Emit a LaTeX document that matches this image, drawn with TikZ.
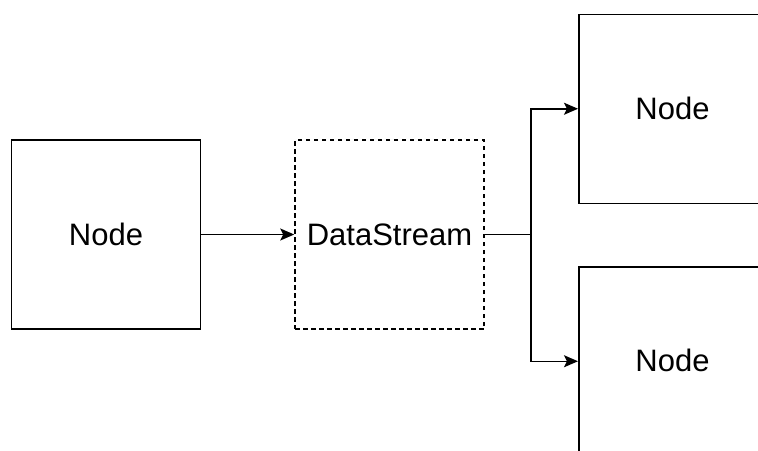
\documentclass[tikz,border=0pt]{standalone}
\usepackage{fontspec}
\setmainfont{Liberation Sans}
\usetikzlibrary{arrows.meta}
\begin{document}
\begin{tikzpicture}[x=1pt,y=-1pt,
  box/.style={draw=black,line width=1.5pt,minimum width=189pt,minimum height=189pt,
    inner sep=0pt,font=\fontsize{31}{36}\selectfont},
  streambox/.style={box,dash pattern=on 4.5pt off 3.5pt},
  link/.style={line width=1.5pt,-{Stealth[length=14pt,width=12pt,inset=3pt]}}]
\useasboundingbox (0,0) rectangle (758,450);
\clip (0,0) rectangle (758,450);
\node[box] (src) at (106,234.5) {Node};
\node[streambox] (ds) at (389.5,234.5) {DataStream};
\node[box,anchor=north west] (top) at (578,13.5) {};
\node[box,anchor=north west] (bot) at (578,266) {};
\node[font=\fontsize{31}{36}\selectfont] (toplbl) at (672.5,108) {Node};
\node[font=\fontsize{31}{36}\selectfont] (botlbl) at (672.5,360.5) {Node};
\coordinate (split) at (531,234.5);
\draw[link] (src.east) -- (ds.west);
\draw[line width=1.5pt] (ds.east) -- (split);
\draw[link] (split) |- (top.west);
\draw[link] (split) |- (bot.west);
\end{tikzpicture}
\end{document}
